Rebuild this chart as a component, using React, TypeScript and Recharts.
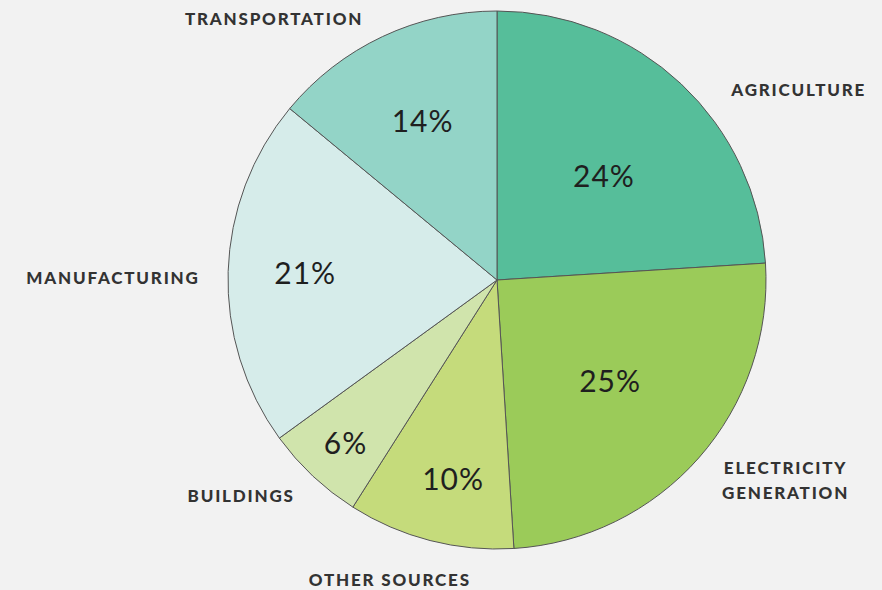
import { PieChart, Pie, Cell } from 'recharts'

// sources, clockwise from 12 o'clock
const sectors = ['AGRICULTURE', 'ELECTRICITY GENERATION', 'OTHER SOURCES', 'BUILDINGS', 'MANUFACTURING', 'TRANSPORTATION']
const shares = [24, 25, 10, 6, 21, 14]
const colors = ['#56be9a', '#9bcb59', '#c5db7b', '#d0e4ac', '#d6ecea', '#93d4c7']

// label placement around the centre: [angle in degrees, distance in px]
const OUTER_LABEL_POS: Array<[number, number]> = [
  [32.3, 357],
  [-34.7, 351],
  [-109.7, 318],
  [-140, 334],
  [179.6, 384],
  [130.4, 344],
]
const INNER_LABEL_POS: Array<[number, number]> = [
  [44.5, 150],
  [-41.5, 151],
  [-102.5, 203],
  [-133, 222],
  [177.6, 192],
  [115, 176],
]

const RAD = Math.PI / 180

const data = sectors.map((name, i) => ({ name, value: shares[i] }))

function polar(cx: number, cy: number, [angle, dist]: [number, number]) {
  return { x: cx + dist * Math.cos(angle * RAD), y: cy - dist * Math.sin(angle * RAD) }
}

// long names go on two lines
function splitName(name: string) {
  return name.length > 16 ? name.split(' ') : [name]
}

function renderLabel(props: any) {
  const { cx, cy, index, value, name } = props
  const inner = polar(cx, cy, INNER_LABEL_POS[index])
  const outer = polar(cx, cy, OUTER_LABEL_POS[index])
  const lines = splitName(String(name))
  return (
    <g>
      <text
        x={inner.x}
        y={inner.y}
        textAnchor="middle"
        dominantBaseline="central"
        fill="#1f1f1f"
        fontFamily="Lato, 'Open Sans', sans-serif"
        fontSize={30}
        letterSpacing={1}
      >
        {value}%
      </text>
      <text
        x={outer.x}
        y={outer.y - ((lines.length - 1) * 25) / 2}
        textAnchor="middle"
        dominantBaseline="central"
        fill="#333"
        fontFamily="Lato, 'Open Sans', sans-serif"
        fontWeight={900}
        fontSize={17}
        letterSpacing={1.8}
      >
        {lines.map((line: string, j: number) => (
          <tspan key={j} x={outer.x} dy={j === 0 ? 0 : 25}>
            {line}
          </tspan>
        ))}
      </text>
    </g>
  )
}

export default function App() {
  return (
    <div style={{ position: 'absolute', left: 0, top: 0, width: 882, height: 590, background: '#f2f2f2' }}>
      <PieChart width={882} height={590} margin={{ top: 0, right: 0, bottom: 0, left: 0 }}>
        <Pie
          data={data}
          dataKey="value"
          nameKey="name"
          cx={497}
          cy={280}
          outerRadius={269}
          startAngle={90}
          endAngle={-270}
          stroke="#555"
          strokeWidth={1}
          label={renderLabel}
          labelLine={false}
          isAnimationActive={false}
        >
          {data.map((d, i) => (
            <Cell key={d.name} fill={colors[i]} />
          ))}
        </Pie>
      </PieChart>
    </div>
  )
}
